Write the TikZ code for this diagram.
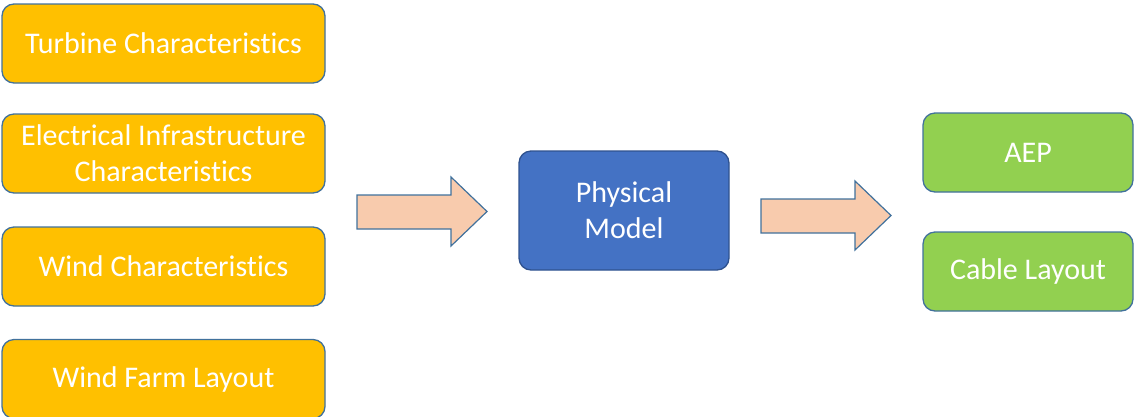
\documentclass[tikz,border=0pt]{standalone}
\usepackage{fontspec}
\setmainfont[Ligatures=NoCommon]{Carlito}
\definecolor{orangeF}{HTML}{FFC000}
\definecolor{blueF}{HTML}{4472C4}
\definecolor{greenF}{HTML}{92D050}
\definecolor{arrowF}{HTML}{F8CBAD}
\definecolor{edgeB}{HTML}{41719C}
\definecolor{edgeD}{HTML}{2F528F}
\begin{document}
\begin{tikzpicture}[x=1pt,y=-1pt,
  box/.style={draw=edgeB, line width=1.3pt, rounded corners=12pt, text=white,
    font=\fontsize{30}{36}\selectfont, align=center, inner sep=0pt},
  inbox/.style={box, fill=orangeF, minimum width=323pt, minimum height=79pt},
  outbox/.style={box, fill=greenF, minimum width=210pt, minimum height=79pt},
  modelbox/.style={box, fill=blueF, draw=edgeD, minimum width=210pt, minimum height=119pt},
  fatarrow/.style={draw=edgeB, line width=1.2pt, fill=arrowF, line join=miter}]
\useasboundingbox (0,0) rectangle (1134,416);
\begin{scope}
\clip (0,0) rectangle (1134,416);
\node[inbox] (turb) at (163.5,43.5) {Turbine Characteristics};
\node[inbox] (elec) at (163.5,153.5) {Electrical Infrastructure\\Characteristics};
\node[inbox] (wind) at (163.5,266.5) {Wind Characteristics};
\node[inbox] (farm) at (163.5,379) {Wind Farm Layout};
\node[modelbox] (model) at (624,210.5) {Physical\\Model};
\node[outbox] (aep) at (1028,152.5) {AEP};
\node[outbox] (cable) at (1028,271.5) {Cable Layout};
\draw[fatarrow] (357,195) -- (451,195) -- (451,177) -- (487,211.5) -- (451,246) -- (451,229) -- (357,229) -- cycle;
\draw[fatarrow] (761,199) -- (855,199) -- (855,181) -- (891,215.5) -- (855,250) -- (855,233) -- (761,233) -- cycle;
\end{scope}
\end{tikzpicture}
\end{document}
